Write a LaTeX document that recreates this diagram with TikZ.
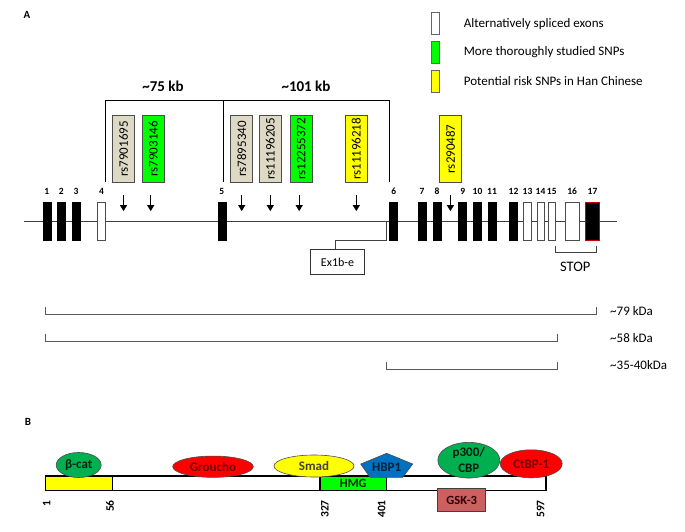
\documentclass[tikz,border=0pt]{standalone}
\usepackage{fontspec}
\setmainfont{Carlito}
\usetikzlibrary{positioning,shapes.geometric,arrows.meta}

\definecolor{snpgrey}{RGB}{221,217,196}
\definecolor{snpgreen}{RGB}{0,255,0}
\definecolor{snpyellow}{RGB}{255,255,0}
\definecolor{domgreen}{RGB}{0,176,80}
\definecolor{domred}{RGB}{255,0,0}
\definecolor{domblue}{RGB}{0,112,192}
\definecolor{gskrose}{RGB}{204,96,96}

\begin{document}
\begin{tikzpicture}[x=1pt,y=-1pt,
    exon/.style={draw=black,fill=black,inner sep=0pt,minimum width=8pt,minimum height=38pt,line width=0.5pt},
    altexon/.style={exon,fill=white,draw=black!70},
    exnum/.style={font=\fontsize{9.5}{10}\selectfont\bfseries,label distance=3.5pt},
    snp/.style={draw=black!70,line width=0.8pt,rotate=90,minimum width=67pt,minimum height=22pt,inner sep=0pt,font=\fontsize{13}{14}\selectfont},
    snparrow/.style={-{Triangle[length=6pt,width=7pt]},line width=1.2pt},
    legbox/.style={draw=black!60,line width=0.8pt,minimum width=8pt,minimum height=22pt,inner sep=0pt},
    legtext/.style={font=\fontsize{13}{14}\selectfont,inner sep=0pt},
    kda/.style={draw=black!65,line width=1pt},
    protein/.style={ellipse,draw=black!70,line width=0.6pt,inner sep=0pt,font=\fontsize{13}{16}\selectfont\bfseries},
    aapos/.style={rotate=90,anchor=east,inner sep=0pt,font=\fontsize{11.5}{12}\selectfont\bfseries}]

  \useasboundingbox (0,0) rectangle (685,532);

  % panel A
  \node[font=\fontsize{11}{12}\selectfont\bfseries] (panelA) at (27,15) {A};

  \node[legbox,fill=white] (legalt) at (435.2,23.8) {};
  \node[legbox,fill=snpgreen] (legstudied) at (435.2,52) {};
  \node[legbox,fill=snpyellow] (legrisk) at (435.2,81.3) {};
  \node[legtext,right=24pt of legalt] {Alternatively spliced exons};
  \node[legtext,right=24pt of legstudied] {More thoroughly studied SNPs};
  \node[legtext,right=24pt of legrisk] {Potential risk SNPs in Han Chinese};

  \node[font=\fontsize{15}{16}\selectfont\bfseries] (kb75) at (163,86.5) {\textasciitilde75 kb};
  \node[font=\fontsize{15}{16}\selectfont\bfseries] (kb101) at (306,86) {\textasciitilde101 kb};
  \draw[line width=0.8pt] (105.3,181.7) |- (389.3,100) -- (389.3,181.7);
  \draw[line width=0.8pt] (223.3,100) -- (223.3,181.7);

  \node[snp,fill=snpgrey] (rs1) at (123.5,148.9) {rs7901695};
  \node[snp,fill=snpgreen] (rs2) at (153.2,148.9) {rs7903146};
  \node[snp,fill=snpgrey] (rs3) at (241.7,148.9) {rs7895340};
  \node[snp,fill=snpgrey] (rs4) at (270.3,148.9) {rs11196205};
  \node[snp,fill=snpgreen] (rs5) at (301.2,148.9) {rs12255372};
  \node[snp,fill=snpyellow] (rs6) at (356.3,148.9) {rs11196218};
  \node[snp,fill=snpyellow] (rs7) at (450.4,148.9) {rs290487};

  \draw[snparrow] (rs1.west) ++(0,12.3) -- ++(0,16);
  \draw[snparrow] ([xshift=-2.5pt]rs2.west) ++(0,12.3) -- ++(0,16);
  \draw[snparrow] (rs3.west) ++(0,12.3) -- ++(0,16);
  \draw[snparrow] (rs4.west) ++(0,12.3) -- ++(0,16);
  \draw[snparrow] ([xshift=-2pt]rs5.west) ++(0,12.3) -- ++(0,16);
  \draw[snparrow] (rs6.west) ++(0,12.3) -- ++(0,16);
  \draw[snparrow] (rs7.west) ++(0,12.3) -- ++(0,16);

  % gene line and exons
  \coordinate (geneL) at (24,221.7);
  \coordinate (geneR) at (617,221.7);
  \draw[black!75,line width=0.8pt] (geneL) -- (geneR);

  \node[exon,label={[exnum]above:1}] (ex1) at (46.9,221) {};
  \node[exon,label={[exnum]above:2}] (ex2) at (61.3,221) {};
  \node[exon,label={[exnum]above:3}] (ex3) at (76,221) {};
  \node[altexon,label={[exnum]above:4}] (ex4) at (101.5,221) {};
  \node[exon,label={[exnum]above:5}] (ex5) at (221.9,221) {};
  \node[exon,label={[exnum]above:6}] (ex6) at (393.7,221) {};
  \node[exon,label={[exnum]above:7}] (ex7) at (422,221) {};
  \node[exon,label={[exnum]above:8}] (ex8) at (437,221) {};
  \node[exon,label={[exnum]above:9}] (ex9) at (462.7,221) {};
  \node[exon,label={[exnum]above:10}] (ex10) at (477.5,221) {};
  \node[exon,label={[exnum]above:11}] (ex11) at (492,221) {};
  \node[exon,label={[exnum]above:12}] (ex12) at (513.5,221) {};
  \node[altexon,label={[exnum]above:13}] (ex13) at (527.5,221) {};
  \node[altexon,minimum width=7pt,label={[exnum]above:14}] (ex14) at (540.5,221) {};
  \node[altexon,minimum width=7pt,label={[exnum]above:15}] (ex15) at (551.8,221) {};
  \node[altexon,minimum width=14.3pt,label={[exnum]above:16}] (ex16) at (572.2,221) {};
  \node[exon,draw=red!80!black,minimum width=13.6pt,label={[exnum]above:17}] (ex17) at (592.5,221) {};

  \node[draw=black!80,line width=0.8pt,minimum width=53.6pt,minimum height=25.7pt,inner sep=0pt,
        font=\fontsize{12}{13}\selectfont] (ex1b) at (337.5,262) {Ex1b-e};
  \coordinate (ex1bjoin) at (386.5,221.7);
  \draw[black!75,line width=0.8pt] ([xshift=-2.5pt]ex1b.north) |- (ex1bjoin |- 0,240.5) -- (ex1bjoin);

  \draw[black!75,line width=0.8pt] (555,246) -- (555,252.3) -- (596,252.3) -- (596,246);
  \node[font=\fontsize{14.5}{15}\selectfont] (stop) at (575.3,266.7) {STOP};

  % protein sizes
  \draw[kda] (45.7,307.3) -- (45.7,314.3) -- (596,314.3) -- (596,307.3);
  \draw[kda] (45.7,334) -- (45.7,341) -- (557,341) -- (557,334);
  \draw[kda] (386.7,362.3) -- (386.7,369) -- (557,369) -- (557,362.3);
  \node[legtext,anchor=west] (kda79) at (610,310.7) {\textasciitilde79 kDa};
  \node[legtext,anchor=west] (kda58) at (610,337.7) {\textasciitilde58 kDa};
  \node[legtext,anchor=west] (kda35) at (610,365) {\textasciitilde35-40kDa};

  % panel B
  \node[font=\fontsize{11}{12}\selectfont\bfseries] (panelB) at (28,421.7) {B};

  \draw[line width=1.3pt,fill=white] (45.3,476) rectangle (546,490.7);
  \draw[line width=1.3pt,fill=snpyellow] (45.3,476) rectangle (112.3,490.7);
  \node[draw,line width=1.3pt,fill=snpgreen,minimum width=66.7pt,minimum height=14.7pt,inner sep=0pt,
        font=\fontsize{12.5}{13}\selectfont\bfseries,text=black!85!green] (hmg) at (353.3,483.3) {HMG};
  \node[draw=black!75,line width=0.8pt,fill=gskrose,minimum width=48pt,minimum height=23.4pt,inner sep=0pt,
        font=\fontsize{12.5}{13}\selectfont\bfseries,text=black!85!red] (gsk) at (461.7,500) {GSK-3};

  \node[protein,fill=domgreen,minimum width=45pt,minimum height=25pt,text=black!80!domgreen] (bcat) at (78.7,465) {β-cat};
  \node[protein,fill=domred,minimum width=80.6pt,minimum height=21.3pt,text=black!55!red] (groucho) at (213,466.7) {Groucho};
  \node[protein,fill=snpyellow,minimum width=80pt,minimum height=22pt,text=black!85!yellow] (smad) at (314,466) {Smad};
  \draw[draw=black!70,line width=0.6pt,fill=domblue] (386.7,453.3) -- (360.7,464) -- (370,477.3) -- (402.7,477.3) -- (412.7,464) -- cycle;
  \node[font=\fontsize{13}{14}\selectfont\bfseries,text=black!70!domblue,inner sep=0pt] (hbp) at (386.7,467.5) {HBP1};
  \node[protein,fill=domgreen,minimum width=62pt,minimum height=35pt,align=center,text=black!85!domgreen] (p300) at (468.8,460.2) {p300/\\CBP};
  \node[protein,fill=domred,minimum width=62pt,minimum height=28pt,text=black!55!red] (ctbp) at (531.2,463.8) {CtBP-1};

  \node[aapos] (pos1) at (46.7,500) {1};
  \node[aapos] (pos56) at (110,500) {56};
  \node[aapos] (pos327) at (325,500) {327};
  \node[aapos] (pos401) at (381.7,500) {401};
  \node[aapos] (pos597) at (540.7,500) {597};
\end{tikzpicture}
\end{document}
